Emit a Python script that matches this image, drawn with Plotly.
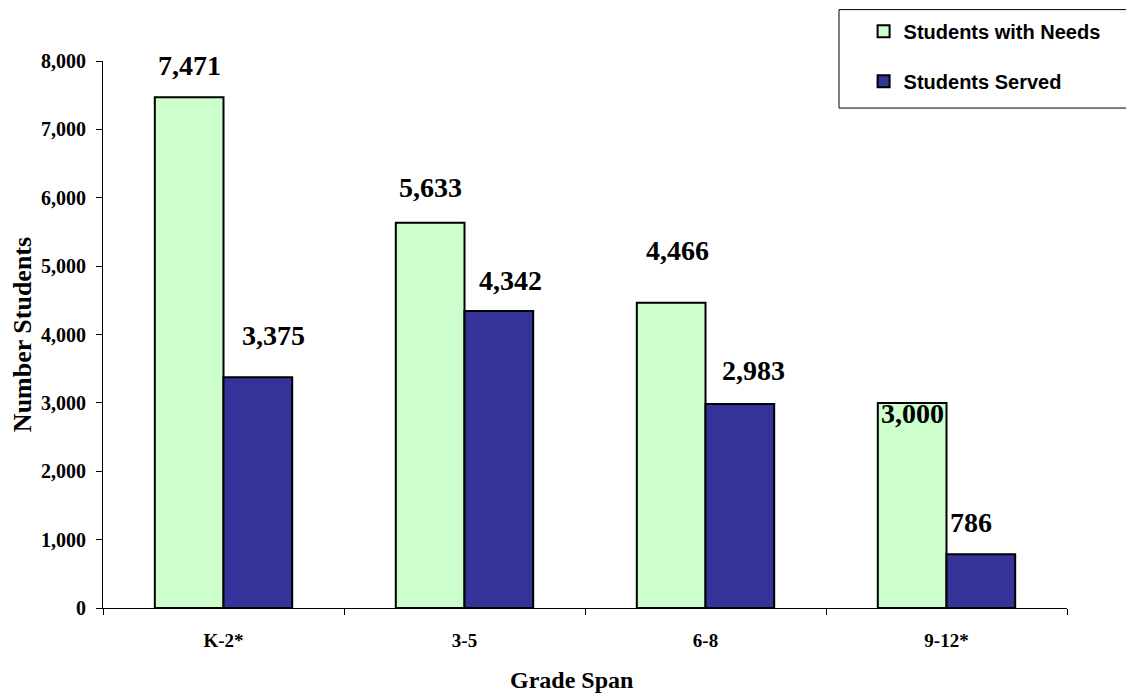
import plotly.graph_objects as go

grades = ["K-2*", "3-5", "6-8", "9-12*"]
needs = [7471, 5633, 4466, 3000]
served = [3375, 4342, 2983, 786]
y_ticks = [0, 1000, 2000, 3000, 4000, 5000, 6000, 7000, 8000]

# label nudges (px) to mimic the hand-placed labels of the original
needs_shift = [(0, 32), (0, 35), (6, 52), (0, -11)]
served_shift = [(16, 42), (12, 31), (14, 34), (-10, 32)]

SERIF = "Liberation Serif, Times New Roman, serif"
SANS = "Liberation Sans, Arial, sans-serif"

fig = go.Figure()
fig.add_trace(go.Bar(
    x=grades, y=needs, name="Students with Needs", legendgroup="a",
    marker={"color": "#CCFFCC", "line": {"color": "#000000", "width": 2}},
))
fig.add_trace(go.Bar(
    x=grades, y=served, name="Students Served", legendgroup="b",
    marker={"color": "#333399", "line": {"color": "#000000", "width": 2}},
))

for offset, values, shifts in [(-0.143, needs, needs_shift), (0.143, served, served_shift)]:
    for i, (val, (dx, dy)) in enumerate(zip(values, shifts)):
        fig.add_annotation(
            x=i + offset, y=val, text=f"<b>{val:,}</b>", showarrow=False,
            xref="x", yref="y", xshift=dx, yshift=dy,
            font={"family": SERIF, "size": 28, "color": "#000000"},
        )

# x-axis title, sits slightly left of centre in the original
fig.add_annotation(
    x=0.4865, y=-0.159, xref="paper", yref="paper", showarrow=False,
    text="<b>Grade Span</b>", font={"family": SERIF, "size": 24, "color": "#000000"},
)

# legend frame
fig.add_shape(
    type="rect", xref="paper", yref="paper",
    x0=0.7635, x1=1.065, y0=0.914, y1=1.094,
    line={"color": "#000000", "width": 1}, fillcolor="rgba(0,0,0,0)",
)

# the page body adds an 8px offset, so margins are shifted to compensate
fig.update_layout(
    width=1134, height=698,
    barmode="group", bargap=0.43, bargroupgap=0,
    plot_bgcolor="white", paper_bgcolor="white",
    margin={"l": 95, "r": 75, "t": 53, "b": 98, "autoexpand": False},
    font={"family": SERIF, "color": "#000000"},
    showlegend=True,
    legend={
        "x": 0.789, "y": 1.09, "xanchor": "left", "yanchor": "top",
        "borderwidth": 0, "bgcolor": "rgba(0,0,0,0)",
        "font": {"family": SANS, "size": 20, "color": "#000000", "weight": "bold"},
        "tracegroupgap": 21, "itemwidth": 30,
    },
)
fig.update_xaxes(
    type="category", showline=True, linecolor="#000000", linewidth=1,
    ticks="outside", tickson="boundaries", ticklen=6, tickcolor="#000000",
    tickfont={"family": SERIF, "size": 19, "weight": "bold"},
    ticklabelstandoff=15,
    range=[-0.5, 3.5],
)
fig.update_yaxes(
    range=[0, 8000], tickvals=y_ticks, ticktext=[f"{v:,}" for v in y_ticks],
    showgrid=False, zeroline=False, showline=True, linecolor="#000000", linewidth=1,
    ticks="outside", ticklen=6, tickcolor="#000000",
    tickfont={"family": SERIF, "size": 20, "weight": "bold"},
    ticklabelstandoff=6,
    title={"text": "<b>Number Students</b>", "font": {"family": SERIF, "size": 26}, "standoff": 2},
)

fig.write_html("out.html")
